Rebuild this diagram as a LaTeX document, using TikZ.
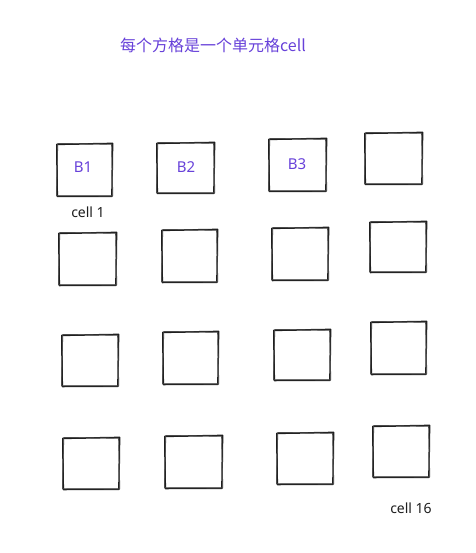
\documentclass[tikz,border=0pt]{standalone}
\usepackage{fontspec}
\setmainfont{Noto Sans}
\newfontfamily\cjk{Noto Sans CJK SC}
\definecolor{ink}{HTML}{1E1E1E}
\definecolor{violet}{HTML}{6741D9}
\begin{document}
\begin{tikzpicture}[x=1pt,y=-1pt,
  cellbox/.style={minimum width=#1, inner sep=0pt, text=violet, font=\fontsize{15}{15}\selectfont},
  sk/.style={draw=ink, line width=1.5pt, line join=round, line cap=round},
  skb/.style={draw=ink!80, line width=0.8pt, line join=round, line cap=round},
  blbl/.style={text=violet, font=\fontsize{15}{15}\selectfont},
  lbl/.style={text=ink, font=\fontsize{14}{14}\selectfont, inner sep=0pt}]
\useasboundingbox (0,0) rectangle (475,553);
\newcommand{\skcell}[1]{%
  \draw[sk] ([shift={(0,0.6)}]#1.north west) -- ([shift={(0.4,-0.4)}]#1.north east)
     -- ([shift={(-0.3,0.2)}]#1.south east) -- ([shift={(0.5,0.3)}]#1.south west) -- cycle;
  \draw[skb] ([shift={(1.0,-0.4)}]#1.north west) -- ([shift={(-0.6,0.5)}]#1.north east)
     -- ([shift={(0.6,-0.3)}]#1.south east) -- ([shift={(-0.4,-0.5)}]#1.south west) -- cycle;}
% row 1
\node[cellbox=55pt, minimum height=52pt] (c1) at (84.5,170) {};
\node[cellbox=57pt, minimum height=50pt] (c2) at (185.5,168) {};
\node[cellbox=57pt, minimum height=52pt] (c3) at (297.5,165) {};
\node[cellbox=57pt, minimum height=51pt] (c4) at (393.5,158.5) {};
% row 2
\node[cellbox=57pt, minimum height=52pt] (c5) at (87.5,259) {};
\node[cellbox=55pt, minimum height=52pt] (c6) at (189.5,256) {};
\node[cellbox=56pt, minimum height=52pt] (c7) at (300,254) {};
\node[cellbox=56pt, minimum height=50pt] (c8) at (398,247) {};
% row 3
\node[cellbox=56pt, minimum height=51pt] (c9) at (90,360.5) {};
\node[cellbox=55pt, minimum height=52pt] (c10) at (190.5,358) {};
\node[cellbox=56pt, minimum height=50pt] (c11) at (302,355) {};
\node[cellbox=55pt, minimum height=52pt] (c12) at (398.5,348) {};
% row 4
\node[cellbox=56pt, minimum height=51pt] (c13) at (91,463.5) {};
\node[cellbox=57pt, minimum height=52pt] (c14) at (193.5,462) {};
\node[cellbox=56pt, minimum height=51pt] (c15) at (305,458.5) {};
\node[cellbox=56pt, minimum height=51pt] (c16) at (401,451.5) {};
\foreach \i in {1,...,16} {\skcell{c\i}}
% labels inside
\node[blbl] (b1) at (83,167) {B1};
\node[blbl] (b2) at (186,167) {B2};
\node[blbl] (b3) at (297,164) {B3};
% cell labels
\node[lbl] (l1) at (88,212) {cell 1};
\node[lbl] (l16) at (411,508) {cell 16};
% title
\node[text=violet, font=\cjk\fontsize{16}{16}\selectfont, inner sep=0pt] (title) at (213,45) {每个方格是一个单元格cell};
\end{tikzpicture}
\end{document}
